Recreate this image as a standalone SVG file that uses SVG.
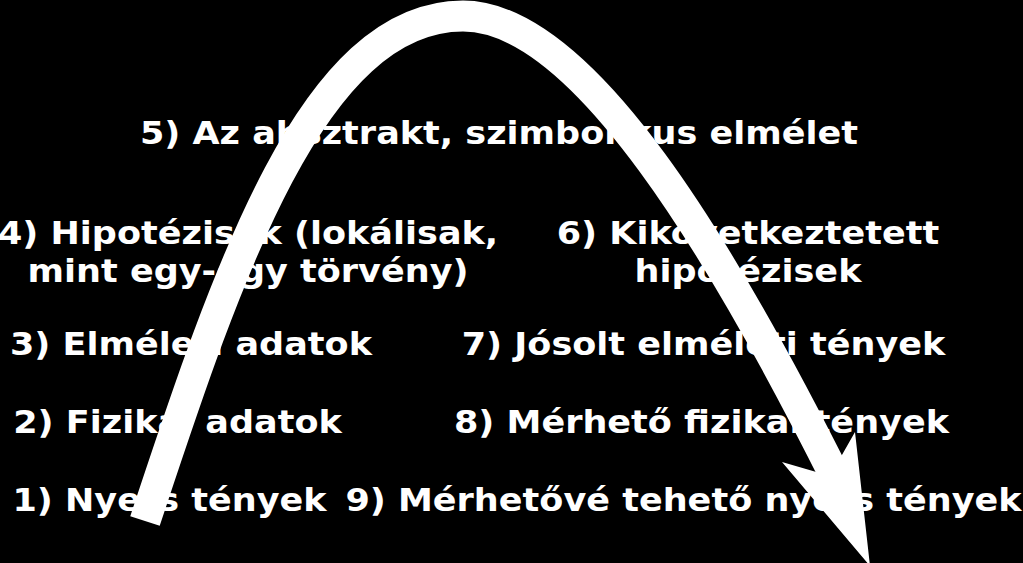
<svg xmlns="http://www.w3.org/2000/svg" width="1023" height="563" viewBox="0 0 1023 563">
  <style>
    .lbl { fill: #ffffff; font-family: "DejaVu Sans", "Liberation Sans", sans-serif; font-weight: bold; font-size: 32px; text-anchor: middle; }
    .shaft { fill: none; stroke: #ffffff; stroke-width: 31; stroke-linecap: butt; stroke-linejoin: miter; }
    .head { fill: #ffffff; stroke: none; }
  </style>
  <rect x="0" y="0" width="1023" height="563" fill="#000000"/>
  <g transform="scale(1.095,1)">
    <g id="node5"><text class="lbl" x="455.7" y="144">5) Az absztrakt, szimbolikus elmélet</text></g>
    <g id="node4"><text class="lbl" x="226.5" y="244">4) Hipotézisek (lokálisak,</text><text class="lbl" x="226.5" y="282">mint egy-egy törvény)</text></g>
    <g id="node6"><text class="lbl" x="683.1" y="244">6) Kikövetkeztetett</text><text class="lbl" x="683.1" y="282">hipotézisek</text></g>
    <g id="node3"><text class="lbl" x="174.4" y="355">3) Elméleti adatok</text></g>
    <g id="node7"><text class="lbl" x="642.5" y="355">7) Jósolt elméleti tények</text></g>
    <g id="node2"><text class="lbl" x="162.1" y="433">2) Fizikai adatok</text></g>
    <g id="node8"><text class="lbl" x="640.6" y="433">8) Mérhető fizikai tények</text></g>
    <g id="node1"><text class="lbl" x="154.8" y="511">1) Nyers tények</text></g>
    <g id="node9"><text class="lbl" x="624.2" y="511">9) Mérhetővé tehető nyers tények</text></g>
  </g>
  <g id="connectors">
    <path class="shaft" d="M145,521 C227.5,271 313,16 463,16 C583,16 723,252 838,482"/>
    <polygon class="head" points="870,566 782,462 830,476 855,432"/>
  </g>
</svg>
